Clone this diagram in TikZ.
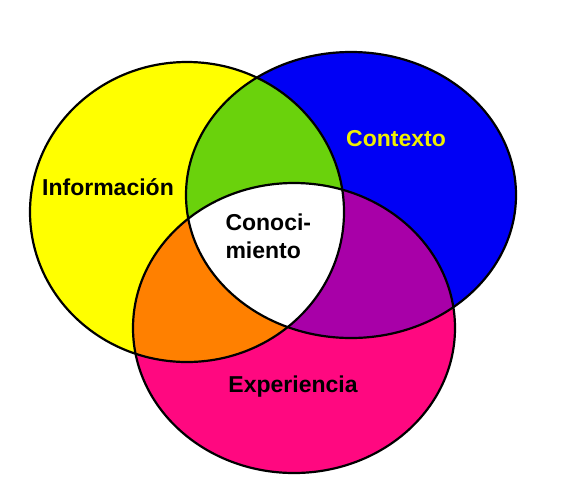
\documentclass[tikz,border=0pt]{standalone}
\usepackage{fontspec}
\setmainfont{Liberation Sans}
\usetikzlibrary{calc}

\definecolor{infoyellow}{RGB}{255,255,0}
\definecolor{ctxblue}{RGB}{0,0,245}
\definecolor{expmagenta}{RGB}{255,8,128}
\definecolor{mixgreen}{RGB}{106,210,12}
\definecolor{mixorange}{RGB}{255,128,0}
\definecolor{mixpurple}{RGB}{168,0,168}
\definecolor{ctxtext}{RGB}{240,240,0}

% the three sets
\newcommand{\infoset}{(info) ellipse [x radius=157pt, y radius=150pt]}
\newcommand{\ctxset}{(ctx) ellipse [x radius=165pt, y radius=143pt]}
\newcommand{\expset}{(exp) ellipse [x radius=161pt, y radius=145pt]}

\begin{document}
\begin{tikzpicture}[x=1pt,y=-1pt,
  rim/.style={black,line width=2.2pt},
  setlabel/.style={font=\fontsize{23}{28}\selectfont\bfseries,anchor=base}]

\useasboundingbox (0,0) rectangle (569,480);

\coordinate (info) at (187,212);
\coordinate (ctx) at (351,195);
\coordinate (exp) at (294,328);

\fill [infoyellow] \infoset;
\fill [ctxblue] \ctxset;
\fill [expmagenta] \expset;

\begin{scope}
\clip \infoset;
\fill [mixgreen] \ctxset;
\fill [mixorange] \expset;
\end{scope}

\begin{scope}
\clip \ctxset;
\fill [mixpurple] \expset;
\clip \expset;
\fill [white] \infoset;
\end{scope}

\draw [rim] \infoset;
\draw [rim] \ctxset;
\draw [rim] \expset;

\node [setlabel] (infolabel) at (108,195) {Información};
\node [setlabel,ctxtext] (ctxlabel) at (396,146) {Contexto};
\node [setlabel] (explabel) at (293,392) {Experiencia};
\node [setlabel,anchor=base west,align=left] (knowlabel) at (222,258) {Conoci-\\miento};

\end{tikzpicture}
\end{document}
